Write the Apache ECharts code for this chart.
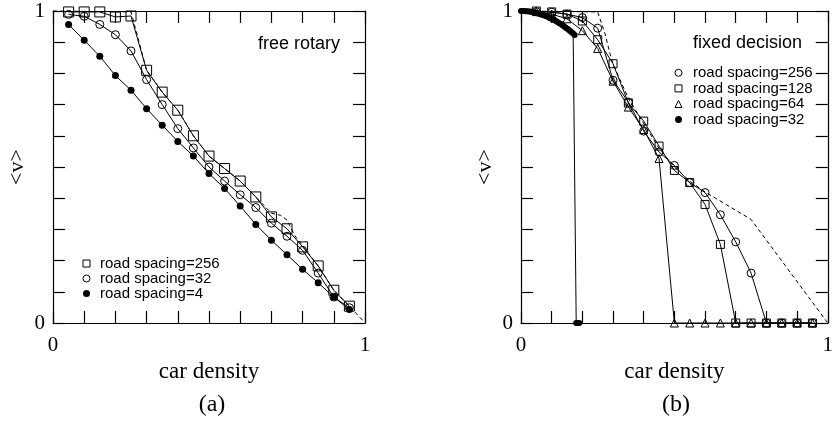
<!DOCTYPE html>
<html><head><meta charset="utf-8">
<script src="https://cdn.jsdelivr.net/npm/echarts@6/dist/echarts.min.js"></script>
<style>html,body{margin:0;padding:0;background:#fff}#c{width:836px;height:422px}</style>
</head><body><div id="c"></div>
<script>
// ---- panel (a): free rotary ----
const densityA = [0.05,0.10,0.15,0.20,0.25,0.30,0.35,0.40,0.45,0.50,0.55,0.60,0.65,0.70,0.75,0.80,0.85,0.90,0.95];
const freeSpacing256 = [0.997,0.997,0.997,0.981,0.984,0.81,0.74,0.682,0.60,0.535,0.495,0.455,0.404,0.34,0.302,0.244,0.183,0.105,0.054];
const freeSpacing32  = [0.989,0.983,0.957,0.924,0.872,0.78,0.70,0.623,0.561,0.50,0.455,0.411,0.37,0.32,0.278,0.233,0.16,0.083,0.049];
const freeSpacing4   = [0.957,0.906,0.855,0.793,0.746,0.687,0.634,0.582,0.535,0.479,0.431,0.375,0.316,0.265,0.219,0.172,0.129,0.083,0.043];
const freeLimitX = [0,0.25,0.30,0.35,0.40,0.45,0.50,0.55,0.60,0.65,0.70,0.73,0.75,0.76,0.775,0.80,0.85,0.90,0.95,0.992];
const freeLimitY = [1,0.997,0.81,0.74,0.682,0.60,0.535,0.495,0.455,0.404,0.352,0.345,0.33,0.31,0.28,0.248,0.183,0.105,0.054,0.009];

// ---- panel (b): fixed decision ----
const densityB = [0.05,0.10,0.15,0.20,0.25,0.30,0.35,0.40,0.45,0.50,0.55,0.60,0.65,0.70,0.75,0.80,0.85,0.90,0.95];
const fixedSpacing256 = [0.998,0.996,0.99,0.979,0.945,0.778,0.708,0.615,0.548,0.505,0.45,0.418,0.347,0.26,0.16,0,0,0,0];
const fixedSpacing128 = [1.0,0.997,0.99,0.968,0.908,0.831,0.705,0.647,0.567,0.489,0.45,0.38,0.252,0,0,0,0,0,0];
const fixedSpacing64  = [0.998,0.99,0.975,0.937,0.88,0.775,0.692,0.62,0.527,0,0,0,0,0,0,0,0,0,0];
const fixedSpacing32X = [0,0.005,0.01,0.015,0.02,0.025,0.03,0.035,0.04,0.045,0.05,0.055,0.06,0.065,0.07,0.075,0.08,0.085,0.09,0.095,0.10,0.105,0.11,0.115,0.12,0.125,0.13,0.135,0.14,0.145,0.15,0.155,0.16,0.165,0.17,0.175,0.18,0.185,0.19];
const fixedSpacing32Y = [1.0,1.0,1.0,0.999,0.999,0.998,0.998,0.997,0.996,0.995,0.994,0.992,0.991,0.989,0.988,0.986,0.984,0.982,0.98,0.977,0.975,0.972,0.97,0.967,0.964,0.961,0.958,0.954,0.951,0.947,0.944,0.94,0.936,0.932,0.928,0.923,0,0,0];
const fixedLimitX = [0,0.25,0.274,0.29,0.30,0.35,0.40,0.45,0.50,0.55,0.60,0.75,1.0];
const fixedLimitY = [1,0.997,0.927,0.863,0.83,0.72,0.64,0.56,0.50,0.455,0.42,0.332,0.0];

const tickLabels = ['0','1'];
const legendA = ['road spacing=256','road spacing=32','road spacing=4'];
const legendB = ['road spacing=256','road spacing=128','road spacing=64','road spacing=32'];

const pair = (xs, ys) => xs.map((x, i) => [x, ys[i]]);
const serif = 'Liberation Serif';
const sans = 'Liberation Sans';

function xAxes(grid) {
  return [
    { type:'value', gridIndex:grid, min:0, max:1, interval:0.1, position:'bottom',
      axisLine:{show:true, onZero:false, lineStyle:{color:'#000', width:1.2}},
      axisTick:{show:true, inside:true, length:12, lineStyle:{color:'#000', width:1.2}},
      axisLabel:{show:true, margin:12, fontFamily:serif, fontSize:21, color:'#000',
        formatter: v => Math.abs(v) < 1e-9 ? tickLabels[0] : (Math.abs(v-1) < 1e-9 ? tickLabels[1] : '')},
      splitLine:{show:false},
      name:'car density', nameLocation:'middle', nameGap:28,
      nameTextStyle:{fontFamily:serif, fontSize:23, color:'#000'} },
    { type:'value', gridIndex:grid, min:0, max:1, interval:0.1, position:'top',
      axisLine:{show:true, onZero:false, lineStyle:{color:'#000', width:1.2}},
      axisTick:{show:true, inside:true, length:12, lineStyle:{color:'#000', width:1.2}},
      axisLabel:{show:false}, splitLine:{show:false} }
  ];
}
function yAxes(grid) {
  return [
    { type:'value', gridIndex:grid, min:0, max:1, interval:0.1, position:'left',
      axisLine:{show:true, onZero:false, lineStyle:{color:'#000', width:1.2}},
      axisTick:{show:true, inside:true, length:12, lineStyle:{color:'#000', width:1.2}},
      axisLabel:{show:true, margin:8, fontFamily:serif, fontSize:21, color:'#000',
        formatter: v => Math.abs(v) < 1e-9 ? tickLabels[0] : (Math.abs(v-1) < 1e-9 ? tickLabels[1] : '')},
      splitLine:{show:false},
      name:'<v>', nameLocation:'middle', nameGap:25, nameRotate:90,
      nameTextStyle:{fontFamily:serif, fontSize:22, color:'#000'} },
    { type:'value', gridIndex:grid, min:0, max:1, interval:0.1, position:'right',
      axisLine:{show:true, onZero:false, lineStyle:{color:'#000', width:1.2}},
      axisTick:{show:true, inside:true, length:12, lineStyle:{color:'#000', width:1.2}},
      axisLabel:{show:false}, splitLine:{show:false} }
  ];
}

const hollow = {color:'rgba(0,0,0,0)', borderColor:'#000', borderWidth:1};
const solid = {color:'#000', borderColor:'#000', borderWidth:0};
const line = {color:'#000', width:1};

function s(name, data, xi, yi, symbol, size, itemStyle) {
  return { name, type:'line', data, xAxisIndex:xi, yAxisIndex:yi, symbol, symbolSize:size,
    itemStyle, lineStyle:line, clip:false, showAllSymbol:true, emphasis:{disabled:true} };
}
function dashed(data, xi, yi) {
  return { type:'line', data, xAxisIndex:xi, yAxisIndex:yi, showSymbol:false, symbol:'none',
    lineStyle:{color:'#000', width:1, type:[4,3]}, clip:false, emphasis:{disabled:true} };
}

const option = {
  animation:false,
  backgroundColor:'#fff',
  grid:[
    {left:53, top:11, width:312, height:312},
    {left:521, top:11, width:311, height:312}
  ],
  xAxis:[...xAxes(0), ...xAxes(1)],
  yAxis:[...yAxes(0), ...yAxes(1)],
  legend:[
    { orient:'vertical', left:82.5, top:256, padding:0, itemGap:0, itemWidth:7, itemHeight:7,
      selectedMode:false,
      textStyle:{fontFamily:sans, fontSize:15, color:'#000', lineHeight:15, padding:[0,0,0,5]},
      data:[
        {name:legendA[0], icon:'rect', itemStyle:hollow},
        {name:legendA[1], icon:'circle', itemStyle:hollow},
        {name:legendA[2], icon:'circle', itemStyle:solid}
      ] },
    { orient:'vertical', left:674.5, top:65, padding:0, itemGap:0, itemWidth:7, itemHeight:7,
      selectedMode:false,
      textStyle:{fontFamily:sans, fontSize:15, color:'#000', lineHeight:15.6, padding:[0,0,0,6]},
      data:[
        {name:legendB[0], icon:'circle', itemStyle:hollow},
        {name:legendB[1], icon:'rect', itemStyle:hollow},
        {name:legendB[2], icon:'triangle', itemStyle:hollow},
        {name:legendB[3], icon:'circle', itemStyle:solid}
      ] }
  ],
  graphic:[
    {type:'text', x:340, y:44, style:{text:'free rotary', fontFamily:sans, fontSize:18, fill:'#000', textAlign:'right', textVerticalAlign:'middle'}},
    {type:'text', x:693, y:43, style:{text:'fixed decision', fontFamily:sans, fontSize:18, fill:'#000', textAlign:'left', textVerticalAlign:'middle'}},
    {type:'text', x:212, y:405, style:{text:'(a)', fontFamily:serif, fontSize:24, fill:'#000', textAlign:'center', textVerticalAlign:'middle'}},
    {type:'text', x:676, y:405, style:{text:'(b)', fontFamily:serif, fontSize:24, fill:'#000', textAlign:'center', textVerticalAlign:'middle'}}
  ],
  series:[
    dashed(pair(freeLimitX, freeLimitY), 0, 0),
    s(legendA[0], pair(densityA, freeSpacing256), 0, 0, 'rect', 10, hollow),
    s(legendA[1], pair(densityA, freeSpacing32), 0, 0, 'circle', 8, hollow),
    s(legendA[2], pair(densityA, freeSpacing4), 0, 0, 'circle', 7, solid),
    dashed(pair(fixedLimitX, fixedLimitY), 2, 2),
    s(legendB[0], pair(densityB, fixedSpacing256), 2, 2, 'circle', 8, hollow),
    s(legendB[1], pair(densityB, fixedSpacing128), 2, 2, 'rect', 8, hollow),
    s(legendB[2], pair(densityB, fixedSpacing64), 2, 2, 'triangle', 8, hollow),
    s(legendB[3], pair(fixedSpacing32X, fixedSpacing32Y), 2, 2, 'circle', 6, solid)
  ]
};
echarts.init(document.getElementById('c'), null, {renderer:'canvas'}).setOption(option);
</script>
</body></html>
